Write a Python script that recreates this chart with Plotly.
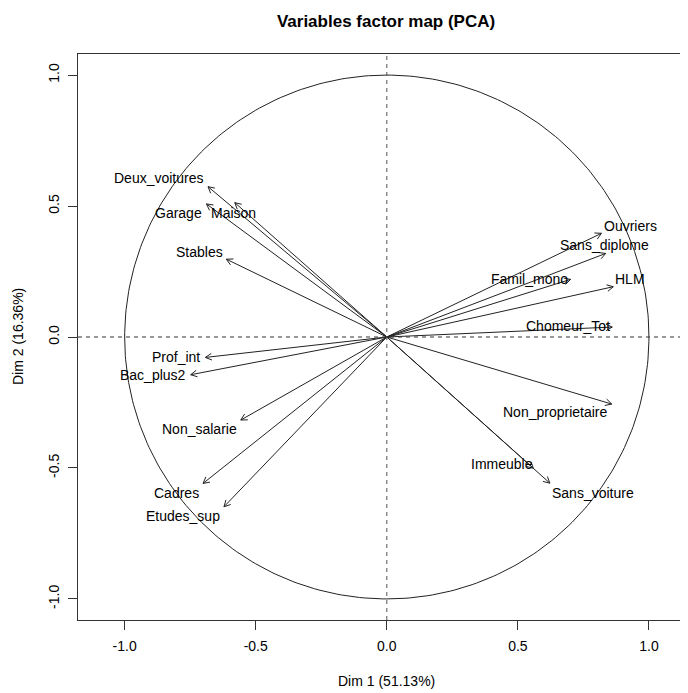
import numpy as np
import plotly.graph_objects as go

# Variables and their coordinates on the first two dimensions
variables = ["Deux_voitures", "Garage", "Maison", "Stables", "Ouvriers",
             "Sans_diplome", "Famil_mono", "HLM", "Chomeur_Tot", "Prof_int",
             "Bac_plus2", "Non_salarie", "Cadres", "Etudes_sup",
             "Non_proprietaire", "Immeuble", "Sans_voiture"]
dim1 = [-0.682, -0.688, -0.580, -0.612, 0.819, 0.835, 0.701, 0.864, 0.860,
        -0.692, -0.748, -0.557, -0.701, -0.621, 0.858, 0.559, 0.622]
dim2 = [0.574, 0.508, 0.513, 0.297, 0.396, 0.319, 0.220, 0.192, 0.038,
        -0.078, -0.144, -0.317, -0.559, -0.648, -0.256, -0.501, -0.558]

# label positions
label_x = [-0.869, -0.795, -0.583, -0.716, 0.930, 0.829, 0.543, 0.927, 0.690,
           -0.805, -0.892, -0.714, -0.803, -0.777, 0.641, 0.438, 0.787]
label_y = [0.608, 0.472, 0.472, 0.326, 0.425, 0.352, 0.221, 0.223, 0.042,
           -0.078, -0.144, -0.350, -0.594, -0.682, -0.287, -0.486, -0.594]

tick_vals = [-1.0, -0.5, 0.0, 0.5, 1.0]
tick_text = ["-1.0", "-0.5", "0.0", "0.5", "1.0"]

FONT = "Liberation Sans, Arial, sans-serif"

fig = go.Figure()

# correlation circle
theta = np.linspace(0, 2 * np.pi, 361)
fig.add_trace(go.Scatter(x=np.cos(theta), y=np.sin(theta), mode="lines",
                         line=dict(color="#222", width=1), hoverinfo="skip"))

# arrow shafts and open heads
head_len = 0.027
head_ang = np.radians(28)
sx, sy, hx, hy = [], [], [], []
for x, y in zip(dim1, dim2):
    sx += [0, x, None]
    sy += [0, y, None]
    a = np.arctan2(y, x)
    for s in (1, -1):
        hx += [x, x - head_len * np.cos(a + s * head_ang), None]
        hy += [y, y - head_len * np.sin(a + s * head_ang), None]
fig.add_trace(go.Scatter(x=sx, y=sy, mode="lines",
                         line=dict(color="#222", width=1), hoverinfo="skip"))
fig.add_trace(go.Scatter(x=hx, y=hy, mode="lines",
                         line=dict(color="#222", width=1), hoverinfo="skip"))

# variable labels
for name, lx, ly in zip(variables, label_x, label_y):
    fig.add_annotation(x=lx, y=ly, text=name, showarrow=False,
                       font=dict(family=FONT, size=14, color="black"),
                       xanchor="center", yanchor="middle")

# reference lines through the origin
fig.add_hline(y=0, line=dict(color="#333", width=1, dash="4px,4px"))
fig.add_vline(x=0, line=dict(color="#555", width=1, dash="4px,4px"))

# axis titles
fig.add_annotation(text="Dim 1 (51.13%)", xref="paper", yref="paper",
                   x=0.505, y=0, yshift=-61, showarrow=False,
                   xanchor="center", yanchor="middle",
                   font=dict(family=FONT, size=14, color="black"))
fig.add_annotation(text="Dim 2 (16.36%)", xref="paper", yref="paper",
                   x=0, y=0.5, xshift=-60, textangle=-90, showarrow=False,
                   xanchor="center", yanchor="middle",
                   font=dict(family=FONT, size=14, color="black"))

# the page body adds an 8px offset, so the figure is 8px smaller
fig.update_layout(
    width=680, height=685,
    margin=dict(l=70, r=0, t=46, b=73),
    paper_bgcolor="white", plot_bgcolor="white",
    showlegend=False,
    title=dict(text="<b>Variables factor map (PCA)</b>", x=0.505, xref="paper",
               y=1 - 12.7 / 685, yanchor="middle", xanchor="center",
               font=dict(family=FONT, size=17, color="black")),
    xaxis=dict(range=[-1.178, 1.149], tickvals=tick_vals, ticktext=tick_text,
               showgrid=False, zeroline=False, showline=True, mirror=True,
               linecolor="#333", linewidth=1, ticks="outside", ticklen=9,
               tickcolor="#333", ticklabelstandoff=4,
               tickfont=dict(family=FONT, size=14, color="black")),
    yaxis=dict(range=[-1.0805, 1.0805], tickvals=tick_vals, ticktext=tick_text,
               showgrid=False, zeroline=False, showline=True,
               linecolor="#333", linewidth=1, ticks="outside", ticklen=9,
               tickcolor="#333", tickangle=-90, ticklabelstandoff=3,
               tickfont=dict(family=FONT, size=14, color="black")),
)

fig.write_html("out.html")
